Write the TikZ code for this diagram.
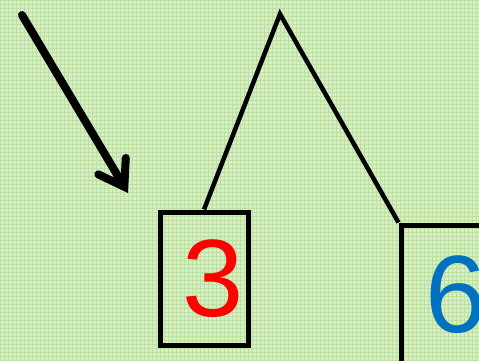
\documentclass[tikz,border=0pt]{standalone}
\usepackage{fontspec}
\setmainfont{Liberation Sans}
\usepackage{tikz}
\usetikzlibrary{arrows.meta, positioning}
\definecolor{paper}{RGB}{216,238,198}
\definecolor{paperline}{RGB}{188,224,158}
\definecolor{sixblue}{RGB}{0,112,192}
\tikzstyle{numbox}=[rectangle, draw=black, line width=5pt, inner sep=0pt]
\tikzstyle{digit}=[inner sep=0pt, font=\fontsize{110}{110}\selectfont]
\tikzstyle{link}=[draw=black, line width=4.5pt, line join=miter]

\begin{document}
\begin{tikzpicture}[x=1pt, y=-1pt]
    % Paper:
    \useasboundingbox (0,0) rectangle (479,361);
    \clip (0,0) rectangle (479,361);
    \fill[paper] (0,0) rectangle (479,361);
    \draw[paperline, line width=0.8pt, step=4pt] (0,0) grid (479,361);

    % Boxes:
    \node[numbox, minimum width=88pt, minimum height=133pt] (b3) at (204,278.5) {};
    \node[digit, text=red] (d3) at ([xshift=9pt]b3.center) {3};
    \node[numbox, minimum width=110pt, minimum height=150pt] (b6) at (456,300) {};
    \node[digit, text=sixblue] (d6) at ([yshift=5pt]b6.center) {6};

    % Links:
    \coordinate (peak) at (280,14);
    \draw[link] (b3.north) -- (peak) -- (b6.north west);

    % Pointer:
    \coordinate (from) at (22,15);
    \coordinate (tip) at (128,193);
    \draw[line width=8pt, line cap=round, -{Straight Barb[length=24pt, width=32pt, line cap=round]}] (from) -- (tip);
\end{tikzpicture}
\end{document}
